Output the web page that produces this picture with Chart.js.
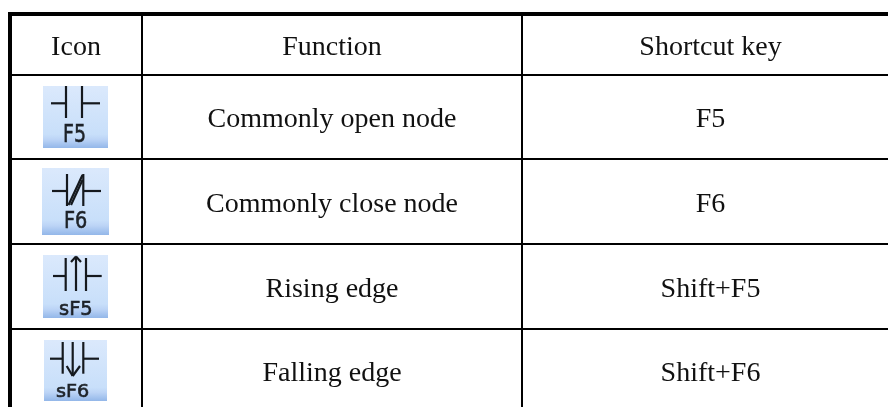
<!DOCTYPE html>
<html>
<head>
<meta charset="utf-8">
<title>Icon table</title>
<script src="https://cdn.jsdelivr.net/npm/chart.js@4"></script>
<style>
  html, body { margin: 0; padding: 0; background: #fff; }
  canvas { display: block; }
</style>
</head>
<body>
<canvas id="canvas-1" width="888" height="407"></canvas>
<script>
// table content
const headers = ['Icon', 'Function', 'Shortcut key'];
const iconNames = ['F5', 'F6', 'sF5', 'sF6'];
const functionNames = ['Commonly open node', 'Commonly close node', 'Rising edge', 'Falling edge'];
const shortcutKeys = ['F5', 'F6', 'Shift+F5', 'Shift+F6'];

// table layout, the last edge of each list falls outside the picture
const columnEdges = [10, 142, 522, 899];
const rowEdges = [14, 75, 159, 244, 329, 412];

const middles = edges => edges.slice(0, -1).map((e, i) => (e + edges[i + 1]) / 2);
const columnMiddles = middles(columnEdges);
const rowMiddles = middles(rowEdges);

// icon sprites: size, label box [left, top, right, bottom], contact strokes, all in sprite pixels
const iconSprites = {
  F5: {
    size: [65, 62],
    label: [20, 37, 43, 55.7],
    strokes: [[8, 17.3, 23, 17.3], [23, 0, 23, 32], [39, 0, 39, 32], [39, 17.3, 57, 17.3]]
  },
  F6: {
    size: [67, 67],
    label: [22, 43.7, 45.3, 60.3],
    strokes: [[10, 23, 25, 23], [25, 6, 25, 38], [41.3, 6, 41.3, 38], [41.3, 23, 59, 23],
      [26.5, 37, 40.5, 7], [29, 37, 40.5, 12]]
  },
  sF5: {
    size: [65, 63],
    label: [16, 45, 49.7, 59.7],
    strokes: [[10, 21, 22.7, 21], [22.7, 3, 22.7, 36], [33, 2, 33, 36], [43, 3, 43, 36], [43, 21, 58.7, 21],
      [28, 7, 33, 1.5], [38, 7, 33, 1.5]]
  },
  sF6: {
    size: [63, 61],
    label: [12, 43.7, 45.3, 57],
    strokes: [[6, 18.7, 18.7, 18.7], [18.7, 2, 18.7, 33.7], [28.7, 2, 28.7, 36], [39.3, 2, 39.3, 33.7],
      [39.3, 18.7, 55, 18.7], [22.7, 26, 28.7, 36], [36, 26, 28.7, 36]]
  }
};

function makeIcon(name) {
  const sprite = iconSprites[name];
  const [w, h] = sprite.size;
  const big = document.createElement('canvas');
  big.width = w;
  big.height = h;
  const c = big.getContext('2d');

  const bg = c.createLinearGradient(0, 0, 0, h);
  bg.addColorStop(0, '#dbe9fc');
  bg.addColorStop(0.78, '#c8dffa');
  bg.addColorStop(0.86, '#bcd4f6');
  bg.addColorStop(1, '#93b7e9');
  c.fillStyle = bg;
  c.fillRect(0, 0, w, h);

  c.filter = 'blur(0.5px)';
  c.strokeStyle = '#15191e';
  c.lineWidth = 2.2;
  sprite.strokes.forEach(s => {
    c.beginPath();
    c.moveTo(s[0], s[1]);
    c.lineTo(s[2], s[3]);
    c.stroke();
  });

  // the label is a narrow bitmap font, stretch a normal one into its box
  const [left, top, right, bottom] = sprite.label;
  const px = (bottom - top) / 0.73;
  c.font = px + 'px "DejaVu Sans"';
  const wide = c.measureText(name).width;
  c.fillStyle = '#1d2228';
  c.strokeStyle = '#1d2228';
  c.lineWidth = 0.6;
  c.save();
  c.translate(left, bottom);
  c.scale((right - left) / wide, 1);
  c.fillText(name, 0, 0);
  c.strokeText(name, 0, 0);
  c.restore();
  return big;
}

const iconImages = iconNames.map(makeIcon);

// writes the cell text at the points the scales placed
const cellText = {
  id: 'cellText',
  afterDatasetsDraw(chart) {
    const c = chart.ctx;
    c.save();
    c.font = '28px "Liberation Serif"';
    c.fillStyle = '#111';
    c.textAlign = 'center';
    c.textBaseline = 'alphabetic';
    chart.data.datasets.forEach((ds, i) => {
      if (!ds.texts) return;
      chart.getDatasetMeta(i).data.forEach((pt, j) => {
        c.fillText(ds.texts[j], pt.x, pt.y + 10);
      });
    });
    c.restore();
  }
};

const textColumn = (col, texts) => ({
  texts: texts,
  pointRadius: 0,
  showLine: false,
  data: texts.map((t, i) => ({ x: columnMiddles[col], y: rowMiddles[i] }))
});

const gridScale = (edges, min, max, reverse) => ({
  type: 'linear',
  min: min,
  max: max,
  reverse: reverse,
  afterBuildTicks: scale => {
    scale.ticks = edges.slice(0, -1).map(v => ({ value: v }));
  },
  ticks: { display: false },
  border: { display: false },
  grid: {
    color: '#000',
    drawTicks: false,
    lineWidth: ctx => (ctx.index === 0 ? 4 : 2)
  }
});

new Chart(document.getElementById('canvas-1'), {
  type: 'scatter',
  data: {
    datasets: [
      {
        showLine: false,
        pointStyle: iconImages,
        pointRadius: 1,
        data: iconNames.map((n, i) => ({ x: columnMiddles[0] - 0.5, y: rowMiddles[i + 1] }))
      },
      textColumn(0, [headers[0]]),
      textColumn(1, [headers[1]].concat(functionNames)),
      textColumn(2, [headers[2]].concat(shortcutKeys))
    ]
  },
  options: {
    responsive: false,
    animation: false,
    events: [],
    layout: { autoPadding: false, padding: { left: 8, top: 12, right: 0, bottom: 0 } },
    plugins: {
      legend: { display: false },
      title: { display: false },
      tooltip: { enabled: false }
    },
    scales: {
      x: gridScale(columnEdges, 8, 888, false),
      y: gridScale(rowEdges, 12, 407, true)
    }
  },
  plugins: [cellText]
});
</script>
</body>
</html>
